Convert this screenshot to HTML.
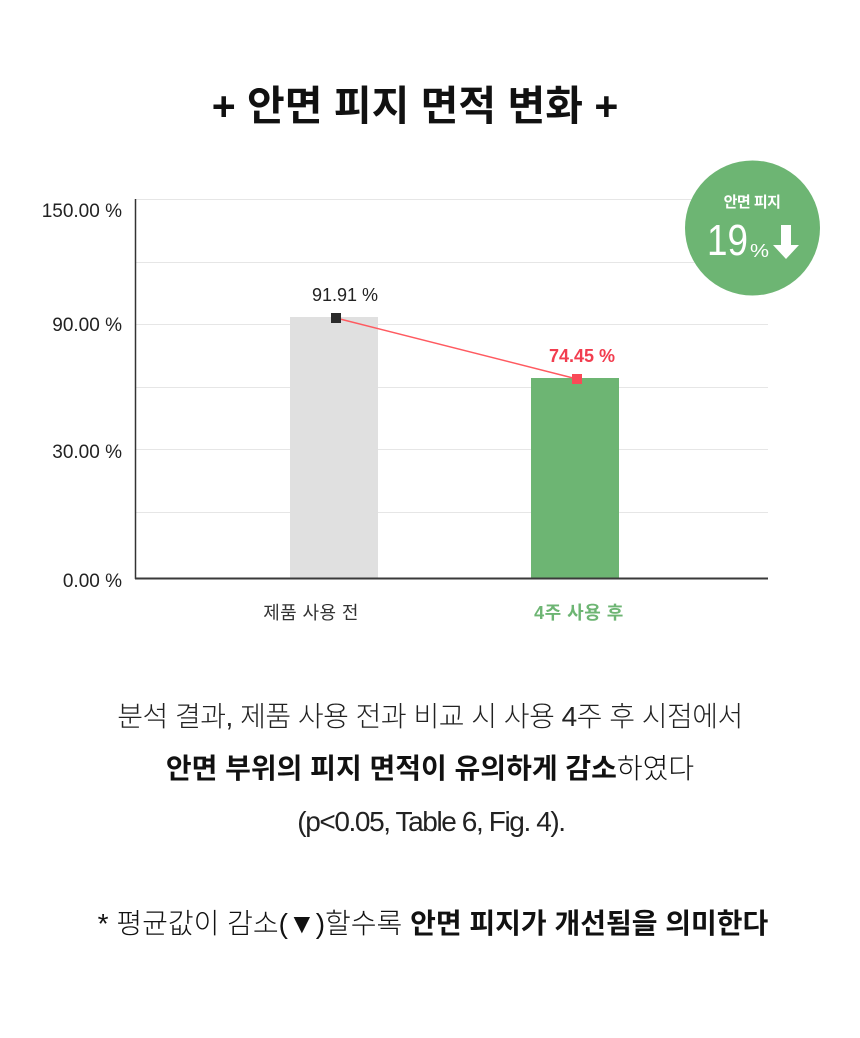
<!DOCTYPE html>
<html>
<head>
<meta charset="utf-8">
<style>
  html, body { margin: 0; padding: 0; background: #ffffff; }
  body { width: 860px; height: 1038px; overflow: hidden; position: relative; }
  svg { position: absolute; left: 0; top: 0; }
  .kr { font-family: "Liberation Sans", "Noto Sans CJK KR", "NanumGothic", sans-serif; }
</style>
</head>
<body>
<svg width="860" height="1038" viewBox="0 0 860 1038" xmlns="http://www.w3.org/2000/svg">
  <!-- Title -->
  <text class="kr" x="415" y="120" text-anchor="middle" font-size="41" font-weight="700" fill="#111" letter-spacing="0">+ 안면 피지 면적 변화 +</text>

  <!-- Gridlines -->
  <g stroke="#e6e6e6" stroke-width="1">
    <line x1="135" y1="199.5" x2="768" y2="199.5"/>
    <line x1="135" y1="262.5" x2="768" y2="262.5"/>
    <line x1="135" y1="324.5" x2="768" y2="324.5"/>
    <line x1="135" y1="387.5" x2="768" y2="387.5"/>
    <line x1="135" y1="449.5" x2="768" y2="449.5"/>
    <line x1="135" y1="512.5" x2="768" y2="512.5"/>
  </g>

  <!-- Bars -->
  <rect x="290" y="317" width="88" height="261" fill="#e0e0e0"/>
  <rect x="531" y="378" width="88" height="200" fill="#6db573"/>

  <!-- Axes -->
  <line x1="135.5" y1="199" x2="135.5" y2="579" stroke="#333" stroke-width="1.5"/>
  <line x1="135" y1="578.5" x2="768" y2="578.5" stroke="#3a3a3a" stroke-width="2"/>

  <!-- Y labels -->
  <g class="kr" font-size="19" fill="#222" text-anchor="end">
    <text x="122" y="217">150.00 %</text>
    <text x="122" y="331">90.00 %</text>
    <text x="122" y="458">30.00 %</text>
    <text x="122" y="587">0.00 %</text>
  </g>

  <!-- Line and markers -->
  <line x1="336" y1="318" x2="577" y2="379" stroke="#ff5a60" stroke-width="1.5"/>
  <rect x="331" y="313" width="10" height="10" fill="#2b2b2b"/>
  <rect x="572" y="374" width="10" height="10" fill="#f94a57"/>

  <!-- Value labels -->
  <text class="kr" x="345" y="301" text-anchor="middle" font-size="18" fill="#222">91.91 %</text>
  <text class="kr" x="582" y="362" text-anchor="middle" font-size="18" font-weight="700" fill="#f23d4f">74.45 %</text>

  <!-- X labels -->
  <text class="kr" x="311" y="619" text-anchor="middle" font-size="18" fill="#333" letter-spacing="0.4">제품 사용 전</text>
  <text class="kr" x="579" y="619" text-anchor="middle" font-size="18" font-weight="700" fill="#6db573" letter-spacing="0.5">4주 사용 후</text>

  <!-- Badge -->
  <circle cx="752.5" cy="228" r="67.5" fill="#6db573"/>
  <text class="kr" x="752" y="207" text-anchor="middle" font-size="15" font-weight="700" fill="#fff" letter-spacing="-0.5">안면 피지</text>
  <text class="kr" x="707" y="255" font-size="44" fill="#fff" textLength="41" lengthAdjust="spacingAndGlyphs">19</text>
  <text class="kr" x="750" y="257" font-size="18" fill="#fff" textLength="19" lengthAdjust="spacingAndGlyphs">%</text>
  <rect x="781" y="225" width="10" height="21" fill="#fff"/>
  <polygon points="773,245 799,245 786,259" fill="#fff"/>

  <!-- Body text -->
  <text class="kr" x="430" y="726" text-anchor="middle" font-size="28" font-weight="300" fill="#222" letter-spacing="-0.5">분석 결과, 제품 사용 전과 비교 시 사용 4주 후 시점에서</text>
  <text class="kr" x="430" y="778" text-anchor="middle" font-size="28" fill="#111" letter-spacing="0"><tspan font-weight="700">안면 부위의 피지 면적이 유의하게 감소</tspan><tspan font-weight="300">하였다</tspan></text>
  <text class="kr" x="431" y="831" text-anchor="middle" font-size="28" font-weight="300" fill="#222" letter-spacing="-1.4">(p&lt;0.05, Table 6, Fig. 4).</text>

  <!-- Footnote -->
  <text class="kr" x="433" y="933" text-anchor="middle" font-size="28" fill="#111" letter-spacing="0"><tspan font-weight="300">* 평균값이 감소(▼)할수록 </tspan><tspan font-weight="700">안면 피지가 개선됨을 의미한다</tspan></text>
</svg>
</body>
</html>
